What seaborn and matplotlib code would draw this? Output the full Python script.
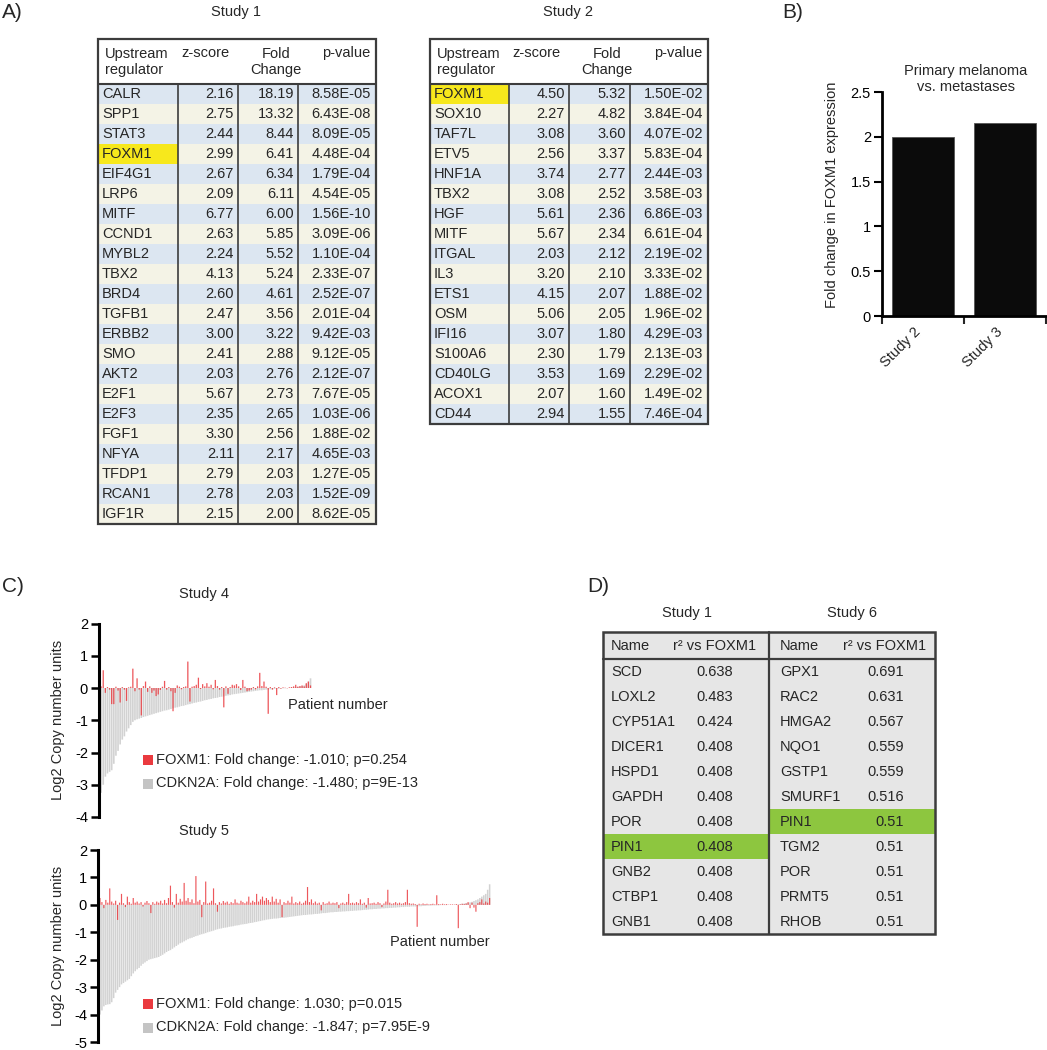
import numpy as np
import pandas as pd
import matplotlib
matplotlib.use('Agg')
import matplotlib.pyplot as plt
import seaborn as sns
from matplotlib.patches import Rectangle

# ---------------- DATA ----------------
# Panel A, Study 1
s1_names = ['CALR', 'SPP1', 'STAT3', 'FOXM1', 'EIF4G1', 'LRP6', 'MITF', 'CCND1', 'MYBL2', 'TBX2', 'BRD4',
            'TGFB1', 'ERBB2', 'SMO', 'AKT2', 'E2F1', 'E2F3', 'FGF1', 'NFYA', 'TFDP1', 'RCAN1', 'IGF1R']
s1_z = [2.16, 2.75, 2.44, 2.99, 2.67, 2.09, 6.77, 2.63, 2.24, 4.13, 2.60,
        2.47, 3.00, 2.41, 2.03, 5.67, 2.35, 3.30, 2.11, 2.79, 2.78, 2.15]
s1_fc = [18.19, 13.32, 8.44, 6.41, 6.34, 6.11, 6.00, 5.85, 5.52, 5.24, 4.61,
         3.56, 3.22, 2.88, 2.76, 2.73, 2.65, 2.56, 2.17, 2.03, 2.03, 2.00]
s1_p = [8.58e-05, 6.43e-08, 8.09e-05, 4.48e-04, 1.79e-04, 4.54e-05, 1.56e-10, 3.09e-06, 1.10e-04, 2.33e-07, 2.52e-07,
        2.01e-04, 9.42e-03, 9.12e-05, 2.12e-07, 7.67e-05, 1.03e-06, 1.88e-02, 4.65e-03, 1.27e-05, 1.52e-09, 8.62e-05]

# Panel A, Study 2
s2_names = ['FOXM1', 'SOX10', 'TAF7L', 'ETV5', 'HNF1A', 'TBX2', 'HGF', 'MITF', 'ITGAL', 'IL3', 'ETS1',
            'OSM', 'IFI16', 'S100A6', 'CD40LG', 'ACOX1', 'CD44']
s2_z = [4.50, 2.27, 3.08, 2.56, 3.74, 3.08, 5.61, 5.67, 2.03, 3.20, 4.15, 5.06, 3.07, 2.30, 3.53, 2.07, 2.94]
s2_fc = [5.32, 4.82, 3.60, 3.37, 2.77, 2.52, 2.36, 2.34, 2.12, 2.10, 2.07, 2.05, 1.80, 1.79, 1.69, 1.60, 1.55]
s2_p = [1.50e-02, 3.84e-04, 4.07e-02, 5.83e-04, 2.44e-03, 3.58e-03, 6.86e-03, 6.61e-04, 2.19e-02, 3.33e-02,
        1.88e-02, 1.96e-02, 4.29e-03, 2.13e-03, 2.29e-02, 1.49e-02, 7.46e-04]

# Panel B
b_categories = ['Study 2', 'Study 3']
b_values = [2.00, 2.15]

# Panel C, Study 4 (patients sorted by CDKN2A)
s4_cdkn2a = [-3.25, -3.00, -2.75, -2.65, -2.60, -2.55, -2.35, -2.10, -1.95, -1.75,
             -1.60, -1.50, -1.35, -1.25, -1.15, -1.05, -1.00, -0.97, -0.95, -0.93,
             -0.90, -0.88, -0.86, -0.84, -0.82, -0.80, -0.78, -0.76, -0.74, -0.72,
             -0.70, -0.69, -0.67, -0.65, -0.63, -0.61, -0.60, -0.58, -0.56, -0.55,
             -0.53, -0.51, -0.50, -0.48, -0.46, -0.45, -0.43, -0.42, -0.40, -0.38,
             -0.37, -0.35, -0.34, -0.32, -0.31, -0.30, -0.28, -0.27, -0.26, -0.24,
             -0.23, -0.22, -0.20, -0.19, -0.18, -0.17, -0.16, -0.15, -0.14, -0.13,
             -0.12, -0.11, -0.10, -0.09, -0.08, -0.07, -0.07, -0.06, -0.05, -0.05,
             -0.04, -0.04, -0.03, -0.03, -0.02, -0.02, -0.01, -0.01, 0.00, 0.01,
             0.01, 0.02, 0.03, 0.04, 0.05, 0.06, 0.08, 0.12, 0.20, 0.30]
s4_foxm1 = [0.05, 0.55, -0.15, 0.03, -0.05, -0.50, -0.50, 0.04, -0.08, -0.45,
            0.03, -0.05, -0.40, 0.02, 0.04, 0.60, -0.10, 0.30, -0.05, -0.85,
            0.06, 0.20, -0.12, 0.05, -0.15, -0.08, -0.25, -0.20, -0.06, 0.04,
            0.22, -0.05, 0.03, -0.10, -0.72, -0.15, 0.08, 0.04, -0.04, 0.03,
            0.05, 0.82, -0.42, 0.04, 0.06, 0.10, 0.32, -0.03, 0.12, 0.05,
            0.15, 0.04, 0.10, -0.04, 0.25, 0.06, -0.05, 0.03, -0.60, 0.05,
            -0.18, 0.03, 0.10, 0.08, 0.12, 0.05, -0.06, 0.25, 0.04, -0.10,
            -0.08, -0.05, 0.03, -0.04, 0.05, 0.47, 0.06, 0.20, 0.04, -0.80,
            0.03, -0.05, 0.02, -0.22, 0.03, -0.02, 0.02, 0.01, -0.01, 0.02,
            0.03, 0.05, 0.10, 0.04, 0.06, 0.08, 0.05, 0.15, 0.20, 0.08]

# Panel C, Study 5
s5_cdkn2a = [-4.00, -3.85, -3.70, -3.65, -3.63, -3.62, -3.55, -3.40, -3.20, -3.10,
             -3.00, -2.90, -2.85, -2.80, -2.75, -2.70, -2.60, -2.50, -2.42, -2.35,
             -2.30, -2.22, -2.15, -2.10, -2.05, -2.00, -1.98, -1.96, -1.94, -1.92,
             -1.90, -1.86, -1.82, -1.77, -1.72, -1.68, -1.65, -1.60, -1.55, -1.50,
             -1.45, -1.40, -1.37, -1.33, -1.29, -1.25, -1.22, -1.20, -1.17, -1.14,
             -1.12, -1.09, -1.07, -1.05, -1.03, -1.00, -0.98, -0.96, -0.94, -0.91,
             -0.89, -0.87, -0.86, -0.84, -0.83, -0.82, -0.80, -0.79, -0.78, -0.76,
             -0.75, -0.74, -0.72, -0.71, -0.70, -0.69, -0.67, -0.66, -0.65, -0.63,
             -0.62, -0.60, -0.59, -0.57, -0.56, -0.54, -0.53, -0.52, -0.51, -0.50,
             -0.50, -0.49, -0.48, -0.47, -0.47, -0.46, -0.45, -0.44, -0.43, -0.42,
             -0.41, -0.40, -0.39, -0.38, -0.37, -0.37, -0.36, -0.35, -0.35, -0.34,
             -0.33, -0.33, -0.32, -0.31, -0.30, -0.30, -0.29, -0.28, -0.27, -0.27,
             -0.26, -0.26, -0.25, -0.25, -0.24, -0.24, -0.23, -0.23, -0.22, -0.22,
             -0.21, -0.21, -0.20, -0.20, -0.19, -0.18, -0.18, -0.17, -0.16, -0.16,
             -0.15, -0.15, -0.14, -0.14, -0.13, -0.13, -0.12, -0.12, -0.11, -0.11,
             -0.10, -0.10, -0.09, -0.09, -0.08, -0.08, -0.07, -0.07, -0.07, -0.06,
             -0.06, -0.06, -0.05, -0.05, -0.05, -0.04, -0.04, -0.03, -0.03, -0.03,
             -0.02, -0.02, -0.02, -0.02, -0.01, -0.01, -0.01, -0.01, 0.00, 0.00,
             0.00, 0.01, 0.01, 0.02, 0.03, 0.04, 0.05, 0.06, 0.07, 0.09,
             0.11, 0.14, 0.17, 0.20, 0.25, 0.30, 0.35, 0.40, 0.55, 0.75]
s5_foxm1 = [0.25, 0.10, -0.12, 0.18, 0.08, 0.60, 0.12, 0.05, 0.15, -0.55,
            0.08, 0.40, 0.06, -0.08, 0.30, 0.10, 0.04, 0.25, 0.08, 0.12,
            0.05, 0.10, -0.06, 0.08, 0.14, 0.06, -0.30, 0.10, 0.04, 0.12,
            0.08, 0.15, 0.05, 0.18, 0.06, 0.25, 0.70, 0.10, -0.10, 0.40,
            0.08, 0.22, 0.12, 0.80, 0.15, 0.25, 0.10, 0.20, 0.06, 1.05,
            0.12, 0.18, -0.45, 0.10, 0.85, 0.05, 0.08, 0.15, 0.60, 0.06,
            -0.25, 0.10, 0.05, 0.14, 0.08, 0.12, 0.04, 0.10, 0.06, 0.20,
            0.08, 0.05, 0.15, 0.10, 0.06, 0.12, 0.30, 0.08, 0.15, 0.10,
            0.40, 0.12, 0.20, 0.30, 0.15, 0.25, 0.18, 0.10, 0.30, 0.12,
            0.22, 0.08, 0.20, -0.45, 0.10, 0.06, 0.15, 0.08, 0.30, 0.05,
            0.10, 0.06, 0.12, 0.04, 0.08, 0.15, 0.65, 0.10, 0.20, 0.06,
            0.12, 0.05, 0.08, -0.20, 0.10, 0.04, 0.06, 0.12, 0.05, 0.08,
            0.06, 0.10, -0.12, 0.05, 0.08, 0.04, 0.10, 0.40, 0.06, 0.08,
            0.05, 0.10, 0.06, 0.20, 0.04, 0.08, -0.10, 0.25, 0.05, 0.06,
            0.08, 0.04, 0.10, 0.06, -0.08, 0.05, 0.12, 0.55, 0.08, 0.04,
            0.06, 0.10, 0.05, 0.08, 0.04, 0.06, 0.10, 0.55, 0.06, 0.04,
            0.05, 0.03, -0.80, 0.04, 0.02, 0.05, 0.03, 0.04, 0.02, 0.03,
            0.04, 0.02, 0.35, 0.03, 0.02, 0.04, 0.02, 0.03, 0.01, 0.02,
            0.02, 0.01, 0.03, -0.85, 0.02, 0.04, 0.03, 0.05, 0.10, -0.12,
            0.08, -0.10, -0.25, 0.06, 0.10, 0.20, 0.05, 0.12, 0.08, 0.25]

s4_legend = ['FOXM1: Fold change: -1.010; p=0.254', 'CDKN2A: Fold change: -1.480; p=9E-13']
s5_legend = ['FOXM1: Fold change: 1.030; p=0.015', 'CDKN2A: Fold change: -1.847; p=7.95E-9']

# Panel D
d1_names = ['SCD', 'LOXL2', 'CYP51A1', 'DICER1', 'HSPD1', 'GAPDH', 'POR', 'PIN1', 'GNB2', 'CTBP1', 'GNB1']
d1_r2 = [0.638, 0.483, 0.424, 0.408, 0.408, 0.408, 0.408, 0.408, 0.408, 0.408, 0.408]
d6_names = ['GPX1', 'RAC2', 'HMGA2', 'NQO1', 'GSTP1', 'SMURF1', 'PIN1', 'TGM2', 'POR', 'PRMT5', 'RHOB']
d6_r2 = [0.691, 0.631, 0.567, 0.559, 0.559, 0.516, 0.51, 0.51, 0.51, 0.51, 0.51]

# ---------------- STYLE ----------------
sns.set_style('white')
plt.rcParams['font.family'] = ['Liberation Sans', 'DejaVu Sans']
plt.rcParams['font.size'] = 10.5
plt.rcParams['axes.unicode_minus'] = False

W, H = 1047, 1050
fig = plt.figure(figsize=(W / 100, H / 100), dpi=100)
fig.patch.set_facecolor('white')

FS = 10.5
BLUE = '#dce6f1'
CREAM = '#f4f3e6'
YELLOW = '#f7e81c'
GREEN = '#8dc63f'
DGRAY = '#e6e6e6'
EDGE = '#3c3c3c'
RED = '#ea3a3f'
GRAY = '#d2d2d2'


def px_axes(x0, y0, x1, y1):
    return fig.add_axes([x0 / W, 1 - y1 / H, (x1 - x0) / W, (y1 - y0) / H])


def ftext(x, y, s, **kw):
    kw.setdefault('fontsize', FS)
    return fig.text(x / W, 1 - y / H, s, **kw)


# ---------------- PANEL A ----------------
def table_a(cols, y_top, y_head, row_h, names, z, fc, p, hl):
    x0, x1 = cols[0], cols[-1]
    n = len(names)
    y_bot = y_head + n * row_h
    ax = px_axes(x0, y_top, x1, y_bot)
    ax.set_xlim(x0, x1)
    ax.set_ylim(y_bot, y_top)
    ax.axis('off')
    ax.add_patch(Rectangle((x0, y_top), x1 - x0, y_head - y_top, facecolor='white', lw=0))
    for i, name in enumerate(names):
        yy = y_head + i * row_h
        ax.add_patch(Rectangle((x0, yy), x1 - x0, row_h, facecolor=BLUE if i % 2 == 0 else CREAM, lw=0))
        if name == hl:
            ax.add_patch(Rectangle((x0, yy), cols[1] - x0, row_h, facecolor=YELLOW, lw=0))
        yc = yy + row_h / 2 + 0.5
        ax.text(x0 + 4, yc, name, ha='left', va='center', fontsize=FS)
        ax.text(cols[2] - 4, yc, f'{z[i]:.2f}', ha='right', va='center', fontsize=FS)
        ax.text(cols[3] - 4, yc, f'{fc[i]:.2f}', ha='right', va='center', fontsize=FS)
        ax.text(x1 - 5, yc, f'{p[i]:.2E}', ha='right', va='center', fontsize=FS)
    # header
    ax.text(x0 + 7, y_top + 23, 'Upstream\nregulator', ha='left', va='center', fontsize=FS, linespacing=1.25)
    ax.text(cols[1] + 3, y_top + 14, 'z-score', ha='left', va='center', fontsize=FS)
    ax.text(cols[2] + 38, y_top + 23, 'Fold\nChange', ha='center', va='center', fontsize=FS, linespacing=1.25)
    ax.text(x1 - 6, y_top + 14, 'p-value', ha='right', va='center', fontsize=FS)
    # lines
    ax.plot([x0, x1], [y_head, y_head], color=EDGE, lw=1.5, clip_on=False, solid_capstyle='butt')
    for xc in cols[1:-1]:
        ax.plot([xc, xc], [y_head, y_bot], color=EDGE, lw=1.2, clip_on=False)
    ax.add_patch(Rectangle((x0, y_top), x1 - x0, y_bot - y_top, fill=False, edgecolor=EDGE,
                           lw=1.6, clip_on=False))


ftext(2, 13, 'A)', fontsize=15, va='center', ha='left')
ftext(236, 12, 'Study 1', ha='center', va='center')
ftext(568, 12, 'Study 2', ha='center', va='center')
table_a([98, 178, 238, 298, 376], 39, 84, 20, s1_names, s1_z, s1_fc, s1_p, 'FOXM1')
table_a([430, 509, 569, 630, 708], 39, 84, 20, s2_names, s2_z, s2_fc, s2_p, 'FOXM1')

# ---------------- PANEL B ----------------
ftext(782, 13, 'B)', fontsize=15, va='center', ha='left')
axb = px_axes(882, 92, 1046, 316)
sns.barplot(x=b_categories, y=b_values, color='#0b0b0b', saturation=1, width=0.76,
            errorbar=None, ax=axb, edgecolor='#555555', linewidth=0.6)
axb.set_ylim(0, 2.5)
axb.set_xlim(-0.5, 1.5)
axb.set_yticks([0, 0.5, 1, 1.5, 2, 2.5])
axb.set_yticklabels(['0', '0.5', '1', '1.5', '2', '2.5'], fontsize=FS)
axb.set_xticks([0, 1])
axb.set_xticklabels(b_categories, rotation=45, ha='right', va='top', fontsize=FS)
axb.set_xticks([-0.5, 0.5, 1.5], minor=True)
axb.tick_params(axis='y', left=True, length=6, width=1.5, direction='out', pad=2, colors='black')
axb.tick_params(axis='x', which='major', bottom=False, length=0, pad=6)
axb.tick_params(axis='x', which='minor', bottom=True, length=6, width=1.5, direction='out')
for s in ['top', 'right']:
    axb.spines[s].set_visible(False)
for s in ['left', 'bottom']:
    axb.spines[s].set_color('black')
    axb.spines[s].set_linewidth(2)
axb.set_xlabel('')
axb.set_ylabel('')
ftext(966, 79, 'Primary melanoma\nvs. metastases', ha='center', va='center', linespacing=1.25)
ftext(832, 195, 'Fold change in FOXM1 expression', rotation=90, ha='center', va='center')


# ---------------- PANEL C ----------------
def copy_panel(box, ylim, yticks, gray_vals, red_vals, title_xy, title, pn_xy, leg_y, leg_labels):
    x0, y0, x1, y1 = box
    ax = px_axes(x0, y0, x1, y1)
    n = len(gray_vals)
    idx = list(range(n))
    sns.barplot(x=idx, y=gray_vals, color=GRAY, saturation=1, width=0.78, errorbar=None,
                ax=ax, linewidth=0)
    n_gray = len(ax.patches)
    sns.barplot(x=idx, y=red_vals, color=RED, saturation=1, width=0.6, errorbar=None,
                ax=ax, linewidth=0)
    for k, patch in enumerate(ax.patches):
        patch.set_snap(False)
        patch.set_antialiased(True)
        if k >= n_gray:
            patch.set_alpha(0.85)
    ax.set_xlim(-1.0, n - 0.3)
    ax.set_ylim(*ylim)
    ax.set_xticks([])
    ax.set_yticks(yticks)
    ax.set_yticklabels([str(t) for t in yticks], fontsize=FS)
    ax.tick_params(axis='y', left=True, length=6, width=1.8, direction='out', pad=2, colors='black')
    for s in ['top', 'right', 'bottom']:
        ax.spines[s].set_visible(False)
    ax.spines['left'].set_color('black')
    ax.spines['left'].set_linewidth(2.2)
    ax.set_xlabel('')
    ax.set_ylabel('')
    ax.patch.set_alpha(0)
    ftext(title_xy[0], title_xy[1], title, ha='center', va='center')
    ftext(pn_xy[0], pn_xy[1], 'Patient number', ha='left', va='center')
    ftext(58, (y0 + y1) / 2, 'Log2 Copy number units', rotation=90, ha='center', va='center')
    for k, (lab, col) in enumerate(zip(leg_labels, [RED, '#c4c4c4'])):
        yy = leg_y + k * 23.5
        fig.add_artist(Rectangle((143 / W, 1 - (yy + 5) / H), 10 / W, 10 / H,
                                 transform=fig.transFigure, facecolor=col, lw=0))
        ftext(156, yy, lab, ha='left', va='center')


ftext(2, 587, 'C)', fontsize=15, va='center', ha='left')
copy_panel((99, 623.5, 312, 817), (-4, 2), [-4, -3, -2, -1, 0, 1, 2], s4_cdkn2a, s4_foxm1,
           (204, 594), 'Study 4', (288, 705), 760, s4_legend)
copy_panel((98, 850, 491, 1042), (-5, 2), [-5, -4, -3, -2, -1, 0, 1, 2], s5_cdkn2a, s5_foxm1,
           (204, 831), 'Study 5', (390, 942), 1004, s5_legend)

# ---------------- PANEL D ----------------
ftext(587, 586, 'D)', fontsize=15, va='center', ha='left')
ftext(687, 613, 'Study 1', ha='center', va='center')
ftext(852, 613, 'Study 6', ha='center', va='center')


def table_d(x0, xm, x1, y_top, y_head, row_h, names1, r1, names2, r2, hl):
    n = len(names1)
    y_bot = y_head + n * row_h
    ax = px_axes(x0, y_top, x1, y_bot)
    ax.set_xlim(x0, x1)
    ax.set_ylim(y_bot, y_top)
    ax.axis('off')
    ax.add_patch(Rectangle((x0, y_top), x1 - x0, y_bot - y_top, facecolor=DGRAY, lw=0))
    for side, (names, vals, xa, xb, vx) in enumerate([(names1, r1, x0, xm, xm - 36),
                                                       (names2, r2, xm, x1, x1 - 31)]):
        pad = 8 if side == 0 else 11
        ax.text(xa + pad, y_top + 14, 'Name', ha='left', va='center', fontsize=FS)
        ax.text(xa + (70 if side == 0 else 74), y_top + 14, 'r² vs FOXM1', ha='left', va='center', fontsize=FS)
        for i, (nm, v) in enumerate(zip(names, vals)):
            yy = y_head + i * row_h
            if nm == hl:
                ax.add_patch(Rectangle((xa, yy), xb - xa, row_h, facecolor=GREEN, lw=0))
            yc = yy + row_h / 2 + 0.5
            ax.text(xa + pad, yc, nm, ha='left', va='center', fontsize=FS)
            ax.text(vx, yc, f'{v:g}', ha='right', va='center', fontsize=FS)
    ax.plot([x0, x1], [y_head, y_head], color=EDGE, lw=1.6, clip_on=False)
    ax.plot([xm, xm], [y_top, y_bot], color=EDGE, lw=1.6, clip_on=False)
    ax.add_patch(Rectangle((x0, y_top), x1 - x0, y_bot - y_top, fill=False, edgecolor=EDGE,
                           lw=1.8, clip_on=False))


table_d(603, 769, 935, 632, 659, 25, d1_names, d1_r2, d6_names, d6_r2, 'PIN1')

fig.savefig('out.png', dpi=100, facecolor='white')
